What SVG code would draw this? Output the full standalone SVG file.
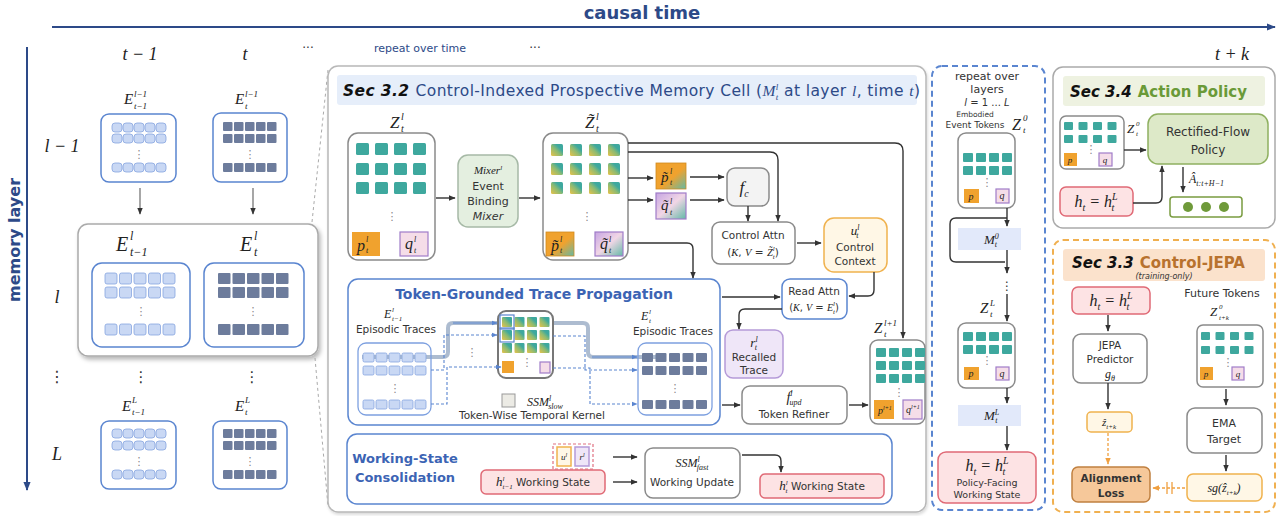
<svg xmlns="http://www.w3.org/2000/svg" width="1280" height="516" viewBox="0 0 1280 516">
<defs>
<style>
text{font-family:"DejaVu Sans","Liberation Sans",sans-serif;fill:#333}
.m{font-family:"Liberation Serif","DejaVu Serif",serif;font-style:italic;fill:#222}
.c{text-anchor:middle}
.bl{fill:#2d4a88}
.bt{fill:#3c64b4;font-weight:bold}
.ar{fill:none;stroke:#333;stroke-width:1.4;marker-end:url(#ah)}
.ln{fill:none;stroke:#333;stroke-width:1.4}
.box{fill:#fff;stroke:#8a8a8a;stroke-width:1.5}
.bbox{fill:#fff;stroke:#5a85d0;stroke-width:1.5}
.pink{fill:#fde3e4;stroke:#e06a76;stroke-width:1.5}
.orgb{fill:#fff7e6;stroke:#f0b24e;stroke-width:1.5}
.pur{fill:#efe6f8;stroke:#b59ad8;stroke-width:1.5}
.mem{fill:#e2e9fa}
.po{fill:#f0a22e}
.pq{fill:#f5dde8;stroke:#a07cc8;stroke-width:1.2}
.tl{fill:#c9d8f4;stroke:#86a5e0;stroke-width:0.8}
.td{fill:#6d7c9c}
.tt{fill:#3ea89e}
.tg{fill:url(#gt)}
.dsh{fill:none;stroke:#5a85d0;stroke-width:1.1;stroke-dasharray:3 2;marker-end:url(#abl)}
.thk{fill:none;stroke:#9fb0c8;stroke-width:4;opacity:0.85}
.dots{fill:#888;font-size:11px}
</style>
<marker id="ah" viewBox="0 0 10 10" refX="9" refY="5" markerWidth="7" markerHeight="7" markerUnits="userSpaceOnUse" orient="auto"><path d="M0,1 L10,5 L0,9 z" fill="#333"/></marker>
<marker id="ab" viewBox="0 0 10 10" refX="9" refY="5" markerWidth="9" markerHeight="9" markerUnits="userSpaceOnUse" orient="auto"><path d="M0,1 L10,5 L0,9 z" fill="#2d4a88"/></marker>
<marker id="abl" viewBox="0 0 10 10" refX="9" refY="5" markerWidth="6" markerHeight="6" markerUnits="userSpaceOnUse" orient="auto"><path d="M0,1 L10,5 L0,9 z" fill="#5a85d0"/></marker>
<marker id="ao" viewBox="0 0 10 10" refX="9" refY="5" markerWidth="7" markerHeight="7" markerUnits="userSpaceOnUse" orient="auto"><path d="M0,1 L10,5 L0,9 z" fill="#f0a040"/></marker>
<linearGradient id="gt" x1="0" y1="1" x2="1" y2="0"><stop offset="0" stop-color="#e8c24a"/><stop offset="0.45" stop-color="#8cbb72"/><stop offset="0.7" stop-color="#3ea89e"/></linearGradient>
<linearGradient id="gp" x1="0" y1="0" x2="1" y2="1"><stop offset="0" stop-color="#f0a22e"/><stop offset="0.55" stop-color="#f0a22e"/><stop offset="1" stop-color="#62b9a6"/></linearGradient>
<linearGradient id="gq" x1="0" y1="0" x2="1" y2="1"><stop offset="0" stop-color="#c7a6e2"/><stop offset="0.5" stop-color="#f1d6e6"/><stop offset="1" stop-color="#62b9a6"/></linearGradient>
<filter id="sh" x="-5%" y="-5%" width="115%" height="120%"><feDropShadow dx="2" dy="3" stdDeviation="2" flood-color="#000" flood-opacity="0.28"/></filter>
<filter id="sh2" x="-5%" y="-5%" width="110%" height="110%"><feDropShadow dx="1" dy="2" stdDeviation="1.5" flood-color="#000" flood-opacity="0.15"/></filter>
<g id="rL5"><rect class="tl" x="0" width="10" height="9" rx="3"/><rect class="tl" x="11" width="10" height="9" rx="3"/><rect class="tl" x="22" width="10" height="9" rx="3"/><rect class="tl" x="33" width="10" height="9" rx="3"/><rect class="tl" x="44" width="10" height="9" rx="3"/></g>
<g id="rD5"><rect class="td" x="0" width="9.5" height="9" rx="1"/><rect class="td" x="11" width="9.5" height="9" rx="1"/><rect class="td" x="22" width="9.5" height="9" rx="1"/><rect class="td" x="33" width="9.5" height="9" rx="1"/><rect class="td" x="44" width="9.5" height="9" rx="1"/></g>
<g id="rLb"><rect class="tl" x="0" width="12" height="11" rx="2"/><rect class="tl" x="14.5" width="12" height="11" rx="2"/><rect class="tl" x="29" width="12" height="11" rx="2"/><rect class="tl" x="43.5" width="12" height="11" rx="2"/><rect class="tl" x="58" width="12" height="11" rx="2"/></g>
<g id="rDb"><rect class="td" x="0" width="12.5" height="11" rx="1"/><rect class="td" x="14.5" width="12.5" height="11" rx="1"/><rect class="td" x="29" width="12.5" height="11" rx="1"/><rect class="td" x="43.5" width="12.5" height="11" rx="1"/><rect class="td" x="58" width="12.5" height="11" rx="1"/></g>
<g id="rT4"><rect class="tt" x="0" width="13" height="12" rx="1.5"/><rect class="tt" x="19" width="13" height="12" rx="1.5"/><rect class="tt" x="38" width="13" height="12" rx="1.5"/><rect class="tt" x="57" width="13" height="12" rx="1.5"/></g>
<g id="rG4"><rect class="tg" x="0" width="12" height="12" rx="1.5"/><rect class="tg" x="19" width="12" height="12" rx="1.5"/><rect class="tg" x="38" width="12" height="12" rx="1.5"/><rect class="tg" x="57" width="12" height="12" rx="1.5"/></g>
<g id="rTs"><rect class="tt" x="0" width="10" height="9" rx="1"/><rect class="tt" x="13" width="10" height="9" rx="1"/><rect class="tt" x="26" width="10" height="9" rx="1"/><rect class="tt" x="39" width="10" height="9" rx="1"/></g>
<g id="rGs"><rect class="tg" x="0" width="10" height="10" rx="1"/><rect class="tg" x="12.5" width="10" height="10" rx="1"/><rect class="tg" x="25" width="10" height="10" rx="1"/><rect class="tg" x="37.5" width="10" height="10" rx="1"/></g>
<g id="rLt"><rect class="tl" x="0" width="11" height="9" rx="1.5"/><rect class="tl" x="13" width="11" height="9" rx="1.5"/><rect class="tl" x="26" width="11" height="9" rx="1.5"/><rect class="tl" x="39" width="11" height="9" rx="1.5"/><rect class="tl" x="52" width="11" height="9" rx="1.5"/></g>
<g id="rDt"><rect class="td" x="0" width="11" height="9" rx="1"/><rect class="td" x="13.5" width="11" height="9" rx="1"/><rect class="td" x="27" width="11" height="9" rx="1"/><rect class="td" x="40.5" width="11" height="9" rx="1"/><rect class="td" x="54" width="11" height="9" rx="1"/></g>
<g id="rTx"><rect class="tt" x="0" width="9" height="8" rx="1"/><rect class="tt" x="14.5" width="9" height="8" rx="1"/><rect class="tt" x="29" width="9" height="8" rx="1"/><rect class="tt" x="43.5" width="9" height="8" rx="1"/></g>
</defs>

<rect width="1280" height="516" fill="#fff"/>

<!-- axes -->
<g id="axes">
<line x1="52" y1="27" x2="1275" y2="27" stroke="#2d4a88" stroke-width="2" marker-end="url(#ab)"/>
<text x="642" y="19" class="c bl" font-size="18" font-weight="bold">causal time</text>
<line x1="27" y1="47" x2="27" y2="490" stroke="#2d4a88" stroke-width="2" marker-end="url(#ab)"/>
<text transform="translate(20,240) rotate(-90)" class="c bl" font-size="16" font-weight="bold">memory layer</text>
<text x="140" y="60" class="m c" font-size="18">t − 1</text>
<text x="245" y="60" class="m c" font-size="18" fill="#556">t</text>
<text x="308" y="52" class="c" font-size="12">···</text>
<text x="420" y="52" class="c bl" font-size="11">repeat over time</text>
<text x="535" y="52" class="c" font-size="12">···</text>
<text x="1232" y="60" class="m c" font-size="18">t + k</text>
<text x="62" y="152" class="m c" font-size="18">l − 1</text>
<text x="57" y="303" class="m c" font-size="18">l</text>
<text x="57" y="382" class="c" font-size="16">⋮</text>
<text x="57" y="460" class="m c" font-size="18">L</text>
</g>

<!-- left grid -->
<g id="E_lm1_tm1">
<text x="124" y="104" class="m" font-size="15">E</text><text x="134" y="97" class="m" font-size="9">l−1</text><text x="134" y="109" class="m" font-size="9">t−1</text>
<rect x="101" y="114" width="75" height="68" rx="8" class="bbox"/>
<use href="#rL5" x="112" y="123"/><use href="#rL5" x="112" y="134"/><text x="139" y="158" class="c dots" font-size="9">⋮</text><use href="#rL5" x="112" y="163"/>
</g>
<g id="E_lm1_t">
<text x="235" y="104" class="m" font-size="15">E</text><text x="245" y="97" class="m" font-size="9">l−1</text><text x="245" y="109" class="m" font-size="9">t</text>
<rect x="213" y="113" width="74" height="69" rx="8" class="bbox"/>
<use href="#rD5" x="223" y="122"/><use href="#rD5" x="223" y="134"/><text x="250" y="158" class="c dots" font-size="9">⋮</text><use href="#rD5" x="223" y="163"/>
</g>
<g id="layer_l">
<rect x="78" y="224" width="240" height="132" rx="10" fill="#fff" stroke="#aaa" stroke-width="1.5" filter="url(#sh)"/>
<text x="116" y="251" class="m" font-size="20">E</text><text x="130" y="240" class="m" font-size="12">l</text><text x="130" y="256" class="m" font-size="12">t−1</text>
<text x="240" y="251" class="m" font-size="20">E</text><text x="254" y="240" class="m" font-size="12">l</text><text x="254" y="256" class="m" font-size="12">t</text>
<rect x="92" y="263" width="98" height="84" rx="10" class="bbox"/>
<use href="#rLb" x="105" y="273"/><use href="#rLb" x="105" y="287"/><text x="141" y="315" class="c dots">⋮</text><use href="#rLb" x="105" y="324"/>
<rect x="204" y="263" width="100" height="84" rx="10" class="bbox"/>
<use href="#rDb" x="218" y="273"/><use href="#rDb" x="218" y="287"/><text x="253" y="315" class="c dots">⋮</text><use href="#rDb" x="218" y="324"/>
</g>
<g id="E_L_tm1">
<text x="122" y="411" class="m" font-size="15">E</text><text x="132" y="403" class="m" font-size="9">L</text><text x="132" y="415" class="m" font-size="9">t−1</text>
<rect x="101" y="421" width="75" height="68" rx="8" class="bbox"/>
<use href="#rL5" x="112" y="429"/><use href="#rL5" x="112" y="441"/><text x="139" y="465" class="c dots" font-size="9">⋮</text><use href="#rL5" x="112" y="470"/>
</g>
<g id="E_L_t">
<text x="235" y="411" class="m" font-size="15">E</text><text x="245" y="403" class="m" font-size="9">L</text><text x="245" y="415" class="m" font-size="9">t</text>
<rect x="213" y="421" width="74" height="68" rx="8" class="bbox"/>
<use href="#rD5" x="223" y="429"/><use href="#rD5" x="223" y="441"/><text x="250" y="465" class="c dots" font-size="9">⋮</text><use href="#rD5" x="223" y="470"/>
</g>
<g id="left_connectors">
<line x1="140" y1="188" x2="140" y2="214" stroke="#777" stroke-width="1.3" marker-end="url(#ah)"/>
<line x1="253" y1="188" x2="253" y2="214" stroke="#777" stroke-width="1.3" marker-end="url(#ah)"/>
<text x="141" y="382" class="c" font-size="15">⋮</text>
<text x="252" y="382" class="c" font-size="15">⋮</text>
<line x1="312" y1="222" x2="328" y2="70" stroke="#aaa" stroke-width="1" stroke-dasharray="3 3"/>
<line x1="315" y1="358" x2="328" y2="506" stroke="#aaa" stroke-width="1" stroke-dasharray="3 3"/>
</g>

<!-- Sec 3.2 panel -->
<g id="sec32">
<rect x="328" y="66" width="598" height="446" rx="10" fill="#fff" stroke="#b8b8b8" stroke-width="1.5" filter="url(#sh2)"/>
<rect x="337" y="75" width="580" height="30" rx="3" fill="#e6eefa"/>
<text x="343" y="96" font-size="15.5" letter-spacing="0.4"><tspan font-style="italic" font-weight="bold" fill="#111">Sec 3.2</tspan><tspan class="bl" dx="6">Control-Indexed Prospective Memory Cell (</tspan><tspan class="m bl">M</tspan><tspan class="m bl" font-size="9" dy="-6">l</tspan><tspan class="m bl" font-size="9" dx="-3" dy="10">t</tspan><tspan class="bl" dy="-4"> at layer </tspan><tspan class="m bl">l</tspan><tspan class="bl">, time </tspan><tspan class="m bl">t</tspan><tspan class="bl">)</tspan></text>
</g>

<g id="Z_lt">
<text x="390" y="128" class="m" font-size="17">Z</text><text x="401" y="120" class="m" font-size="10">l</text><text x="401" y="132" class="m" font-size="10">t</text>
<rect x="348" y="133" width="87" height="127" rx="10" class="box"/>
<use href="#rT4" x="356" y="143"/><use href="#rT4" x="356" y="163"/><use href="#rT4" x="356" y="182"/>
<text x="392" y="220" class="c dots">⋮</text>
<rect x="352" y="232" width="28" height="24" class="po"/>
<text x="357" y="251" class="m" font-size="16">p</text><text x="366" y="242" class="m" font-size="8">l</text><text x="366" y="253" class="m" font-size="8">t</text>
<rect x="400" y="232" width="28" height="24" class="pq"/>
<text x="405" y="249" class="m" font-size="16">q</text><text x="414" y="242" class="m" font-size="8">l</text><text x="414" y="253" class="m" font-size="8">t</text>
</g>
<g id="mixer">
<rect x="458" y="155" width="60" height="72" rx="10" fill="#e4efe0" stroke="#a6b9a6" stroke-width="1.5"/>
<text x="488" y="174" class="m c" font-size="11">Mixer<tspan font-size="7" dy="-4">l</tspan></text>
<text x="488" y="190" class="c" font-size="11">Event</text>
<text x="488" y="205" class="c" font-size="11">Binding</text>
<text x="488" y="220" class="c" font-size="11" font-style="italic">Mixer</text>
</g>
<g id="Zt_lt">
<text x="585" y="128" class="m" font-size="17">Z̃</text><text x="596" y="120" class="m" font-size="10">l</text><text x="596" y="132" class="m" font-size="10">t</text>
<rect x="543" y="133" width="85" height="127" rx="10" class="box"/>
<use href="#rG4" x="551" y="144"/><use href="#rG4" x="551" y="163"/><use href="#rG4" x="551" y="182"/>
<text x="587" y="220" class="c dots">⋮</text>
<rect x="546" y="232" width="28" height="24" fill="url(#gp)" stroke="#d08a20" stroke-width="0.8"/>
<text x="551" y="251" class="m" font-size="16">p̃</text><text x="560" y="242" class="m" font-size="8">l</text><text x="560" y="253" class="m" font-size="8">t</text>
<rect x="595" y="232" width="28" height="24" fill="url(#gq)" stroke="#a07cc8" stroke-width="1.2"/>
<text x="600" y="249" class="m" font-size="16">q̃</text><text x="609" y="242" class="m" font-size="8">l</text><text x="609" y="253" class="m" font-size="8">t</text>
</g>
<g id="pt_small">
<rect x="656" y="163" width="30" height="26" fill="url(#gp)" stroke="#d08a20" stroke-width="0.8"/>
<text x="661" y="182" class="m" font-size="15">p̃</text><text x="670" y="174" class="m" font-size="8">l</text><text x="670" y="185" class="m" font-size="8">t</text>
</g>
<g id="qt_small">
<rect x="656" y="193" width="30" height="26" fill="url(#gq)" stroke="#a07cc8" stroke-width="1.2"/>
<text x="661" y="210" class="m" font-size="15">q̃</text><text x="670" y="204" class="m" font-size="8">l</text><text x="670" y="215" class="m" font-size="8">t</text>
</g>
<g id="fc">
<rect x="727" y="168" width="42" height="38" rx="8" fill="#f3f3f3" stroke="#8a8a8a" stroke-width="1.5"/>
<text x="744" y="193" class="m c" font-size="17">f<tspan font-size="10" dy="4">c</tspan></text>
</g>
<g id="control_attn">
<rect x="712" y="222" width="83" height="42" rx="8" class="box"/>
<text x="753" y="239" class="c" font-size="10.5">Control Attn</text>
<text x="753" y="256" class="c" font-size="10.5">(<tspan class="m">K</tspan>, <tspan class="m">V</tspan> = <tspan class="m">Z̃</tspan><tspan class="m" font-size="7" dy="-5">l</tspan><tspan class="m" font-size="7" dx="-2" dy="8">t</tspan><tspan dy="-3">)</tspan></text>
</g>
<g id="u_ctx">
<rect x="824" y="218" width="63" height="54" rx="10" class="orgb"/>
<text x="855" y="235" class="m c" font-size="13">u<tspan font-size="8" dy="-5">l</tspan><tspan font-size="8" dx="-3" dy="8">t</tspan></text>
<text x="855" y="251" class="c" font-size="10.5">Control</text>
<text x="855" y="265" class="c" font-size="10.5">Context</text>
</g>
<g id="read_attn">
<rect x="782" y="279" width="65" height="40" rx="8" class="bbox"/>
<text x="814" y="295" class="c" font-size="10.5">Read Attn</text>
<text x="814" y="311" class="c" font-size="10">(<tspan class="m">K</tspan>, <tspan class="m">V</tspan> = <tspan class="m">E</tspan><tspan class="m" font-size="7" dy="-5">l</tspan><tspan class="m" font-size="7" dx="-2" dy="8">t</tspan><tspan dy="-3">)</tspan></text>
</g>
<g id="recalled">
<rect x="725" y="330" width="58" height="48" rx="8" class="pur"/>
<text x="754" y="347" class="m c" font-size="13">r<tspan font-size="8" dy="-5">l</tspan><tspan font-size="8" dx="-3" dy="8">t</tspan></text>
<text x="754" y="361" class="c" font-size="10.5">Recalled</text>
<text x="754" y="374" class="c" font-size="10.5">Trace</text>
</g>
<g id="refiner">
<rect x="742" y="386" width="105" height="38" rx="8" class="box"/>
<text x="794" y="402" class="m c" font-size="14">f<tspan font-size="8" dy="-6">l</tspan><tspan font-size="8" dx="-3" dy="9">upd</tspan></text>
<text x="794" y="418" class="c" font-size="10.5">Token Refiner</text>
</g>
<g id="Z_l1_t">
<text x="874" y="333" class="m" font-size="15">Z</text><text x="884" y="326" class="m" font-size="9">l+1</text><text x="884" y="337" class="m" font-size="9">t</text>
<rect x="870" y="340" width="55" height="84" rx="8" class="box"/>
<use href="#rTs" x="876" y="348"/><use href="#rTs" x="876" y="361"/><use href="#rTs" x="876" y="374"/>
<text x="899" y="396" class="c dots" font-size="9">⋮</text>
<rect x="874" y="400" width="20" height="19" class="po"/>
<text x="878" y="414" class="m" font-size="10">p<tspan font-size="6" dy="-4">l+1</tspan></text>
<rect x="903" y="400" width="19" height="19" class="pq"/>
<text x="906" y="413" class="m" font-size="10">q<tspan font-size="6" dy="-4">l+1</tspan></text>
</g>

<g id="trace_prop">
<rect x="348" y="279" width="372" height="146" rx="10" class="bbox"/>
<text x="534" y="299" class="c bt" font-size="14">Token-Grounded Trace Propagation</text>
<text x="384" y="318" class="m" font-size="12">E</text><text x="392" y="312" class="m" font-size="7">l</text><text x="392" y="321" class="m" font-size="7">t−1</text>
<text x="396" y="333" class="c" font-size="10.5">Episodic Traces</text>
<text x="641" y="320" class="m" font-size="12">E</text><text x="649" y="314" class="m" font-size="7">l</text><text x="649" y="323" class="m" font-size="7">t</text>
<text x="673" y="335" class="c" font-size="10.5">Episodic Traces</text>
<path class="thk" d="M362,357 H443 Q448,357 448,352 V328 Q448,323 453,323 H497"/>
<path class="thk" d="M553,323 H583 Q588,323 588,328 V352 Q588,357 593,357 H660"/>
<rect x="358" y="343" width="73" height="72" rx="8" fill="none" stroke="#7da0e0" stroke-width="1.3"/>
<use href="#rLt" x="363" y="353"/><use href="#rLt" x="363" y="366"/><text x="395" y="392" class="c dots" font-size="9">⋮</text><use href="#rLt" x="363" y="400"/>
<rect x="638" y="343" width="74" height="72" rx="8" fill="none" stroke="#7da0e0" stroke-width="1.3"/>
<use href="#rDt" x="642" y="353"/><use href="#rDt" x="642" y="366"/><text x="675" y="392" class="c dots" font-size="9">⋮</text><use href="#rDt" x="642" y="400"/>
<text x="472" y="356" class="c dots" font-size="10">⋮</text>
<rect x="498" y="311" width="55" height="67" rx="8" fill="#fff" stroke="#777" stroke-width="2"/>
<use href="#rGs" x="502" y="317"/><use href="#rGs" x="502" y="330"/><use href="#rGs" x="502" y="343"/>
<rect x="500" y="315" width="14" height="14" fill="none" stroke="#5a85d0" stroke-width="1.2"/>
<rect x="500" y="328" width="14" height="14" fill="none" stroke="#5a85d0" stroke-width="1.2"/>
<text x="527" y="366" class="c dots" font-size="8">⋮</text>
<rect x="502" y="361" width="12" height="12" class="po"/>
<rect x="540" y="362" width="10" height="11" class="pq"/>
<rect x="502" y="394" width="13" height="13" fill="#ecebe5" stroke="#999" stroke-width="1"/>
<text x="527" y="406" class="m" font-size="12">SSM<tspan font-size="8" dy="-5">l</tspan><tspan font-size="8" dx="-3" dy="8">slow</tspan></text>
<text x="532" y="419" class="c" font-size="10.5">Token-Wise Temporal Kernel</text>
<path class="dsh" d="M431,370 H444 V335 H497"/>
<path class="dsh" d="M431,404 H447 V367 H501"/>
<path class="dsh" d="M553,336 H585 V370 H637"/>
<path class="dsh" d="M553,368 H590 V404 H637"/>
<path d="M592,357 H637" fill="none" stroke="#5a85d0" stroke-width="1.1" marker-end="url(#abl)"/>
<path d="M453,323 H497" fill="none" stroke="#5a85d0" stroke-width="1.1" marker-end="url(#abl)"/>
</g>

<g id="working_state">
<rect x="347" y="434" width="545" height="70" rx="10" class="bbox"/>
<text x="405" y="463" class="c bt" font-size="13">Working-State</text>
<text x="405" y="482" class="c bt" font-size="13">Consolidation</text>
<rect x="553" y="444" width="40" height="25" fill="none" stroke="#e07080" stroke-width="1.2" stroke-dasharray="3 2"/>
<rect x="557" y="447" width="14" height="19" class="orgb"/>
<text x="564" y="460" class="m c" font-size="9">u<tspan font-size="6" dy="-3">l</tspan></text>
<rect x="575" y="447" width="14" height="19" class="pur"/>
<text x="582" y="460" class="m c" font-size="9">r<tspan font-size="6" dy="-3">l</tspan></text>
<rect x="481" y="470" width="124" height="24" rx="5" class="pink"/>
<text x="543" y="486" class="c" font-size="10.5"><tspan class="m" font-size="13">h</tspan><tspan class="m" font-size="7" dy="-5">l</tspan><tspan class="m" font-size="7" dx="-2" dy="8">t−1</tspan><tspan dy="-3"> Working State</tspan></text>
<rect x="645" y="448" width="95" height="50" rx="8" class="box"/>
<text x="692" y="467" class="m c" font-size="12">SSM<tspan font-size="8" dy="-5">l</tspan><tspan font-size="8" dx="-3" dy="8">fast</tspan></text>
<text x="692" y="486" class="c" font-size="10.5">Working Update</text>
<rect x="760" y="474" width="124" height="24" rx="5" class="pink"/>
<text x="822" y="490" class="c" font-size="10.5"><tspan class="m" font-size="13">h</tspan><tspan class="m" font-size="7" dy="-5">l</tspan><tspan class="m" font-size="7" dx="-2" dy="8">t</tspan><tspan dy="-3"> Working State</tspan></text>
</g>

<g id="connectors_32">
<path class="ar" d="M436,198 H455"/>
<path class="ar" d="M519,198 H540"/>
<path class="ar" d="M628,143 H895 Q903,143 903,151 V338"/>
<path class="ar" d="M628,152 H770 Q778,152 778,160 V221"/>
<path class="ar" d="M628,178 H653"/>
<path class="ar" d="M628,200 H653"/>
<path class="ar" d="M690,177 H724"/>
<path class="ar" d="M690,200 H724"/>
<path class="ar" d="M748,206 V221"/>
<path class="ar" d="M628,243 H687 Q693,243 693,249 V278"/>
<path class="ar" d="M797,243 H821"/>
<path class="ar" d="M874,272 V290 Q874,296 868,296 H849"/>
<path class="ar" d="M722,297 H780"/>
<path class="ar" d="M782,309 H745 Q739,309 739,315 V329"/>
<path class="ar" d="M722,405 H740"/>
<path class="ar" d="M849,405 H868"/>
<path class="ar" d="M613,457 H637"/>
<path class="ar" d="M613,482 H637"/>
<path class="ar" d="M742,455 H775 Q781,455 781,461 V472"/>
</g>

<!-- layer column -->
<g id="layers_col">
<rect x="932" y="66" width="113" height="444" rx="10" fill="none" stroke="#5a85d0" stroke-width="2" stroke-dasharray="6 4"/>
<text x="987" y="80" class="c" font-size="11" fill="#5a85d0">repeat over</text>
<text x="987" y="93" class="c" font-size="11" fill="#5a85d0">layers</text>
<text x="987" y="106" class="c" font-size="10" fill="#5a85d0"><tspan font-style="italic">l</tspan> = 1 ... <tspan font-style="italic">L</tspan></text>
<text x="975" y="117" class="c" font-size="7.5">Embodied</text>
<text x="975" y="128" class="c" font-size="9">Event Tokens</text>
<text x="1012" y="130" class="m" font-size="16">Z</text><text x="1023" y="121" class="m" font-size="9">0</text><text x="1023" y="133" class="m" font-size="9">t</text>
</g>
<g id="Z0">
<rect x="958" y="133" width="57" height="75" rx="8" class="box"/>
<use href="#rTs" x="963" y="153"/><use href="#rTs" x="963" y="166"/>
<text x="987" y="186" class="c dots" font-size="8">⋮</text>
<rect x="964" y="189" width="15" height="14" class="po"/>
<text x="971" y="200" class="m c" font-size="10">p</text>
<rect x="996" y="189" width="13" height="14" class="pq"/>
<text x="1002" y="199" class="m c" font-size="10">q</text>
</g>
<g id="M0">
<rect x="958" y="228" width="63" height="22" class="mem"/>
<text x="984" y="244" class="m" font-size="13" fill="#3c64b4">M<tspan font-size="8" dy="-5">0</tspan><tspan font-size="8" dx="-4" dy="8">t</tspan></text>
</g>
<g id="ZL">
<text x="980" y="313" class="m" font-size="15">Z</text><text x="990" y="306" class="m" font-size="9">L</text><text x="990" y="317" class="m" font-size="9">t</text>
<rect x="958" y="323" width="57" height="65" rx="8" class="box"/>
<use href="#rTs" x="963" y="332"/><use href="#rTs" x="963" y="345"/>
<text x="987" y="364" class="c dots" font-size="8">⋮</text>
<rect x="964" y="367" width="15" height="13" class="po"/>
<text x="971" y="377" class="m c" font-size="10">p</text>
<rect x="996" y="367" width="13" height="13" class="pq"/>
<text x="1002" y="377" class="m c" font-size="10">q</text>
</g>
<g id="ML">
<rect x="958" y="405" width="63" height="21" class="mem"/>
<text x="984" y="420" class="m" font-size="13" fill="#3c64b4">M<tspan font-size="8" dy="-5">L</tspan><tspan font-size="8" dx="-4" dy="8">t</tspan></text>
</g>
<g id="policy_state">
<rect x="938" y="452" width="98" height="51" rx="8" class="pink"/>
<text x="987" y="471" class="m c" font-size="16">h<tspan font-size="10" dy="4">t</tspan><tspan dy="-4"> = h</tspan><tspan font-size="10" dy="-7">L</tspan><tspan font-size="10" dx="-6" dy="11">t</tspan></text>
<text x="987" y="486" class="c" font-size="9.5">Policy-Facing</text>
<text x="987" y="498" class="c" font-size="9.5">Working State</text>
</g>
<g id="connectors_layers">
<path class="ar" d="M1007,208 V226"/>
<path class="ln" d="M1007,218 H956 Q950,218 950,224 V256 Q950,262 956,262 H1005"/>
<path class="ar" d="M1007,250 V273"/>
<text x="1007" y="290" class="c" font-size="12">⋮</text>
<path class="ar" d="M1007,294 V321"/>
<path class="ar" d="M1007,388 V403"/>
<path class="ar" d="M1007,426 V450"/>
</g>

<!-- Action policy -->
<g id="sec34">
<rect x="1053" y="67" width="222" height="161" rx="10" fill="#fff" stroke="#aaa" stroke-width="1.5"/>
<rect x="1063" y="76" width="202" height="30" rx="3" fill="#eef2e1"/>
<text x="1070" y="97" font-size="15"><tspan font-style="italic" font-weight="bold" fill="#111">Sec 3.4</tspan><tspan dx="6" fill="#6a9a38" font-weight="bold">Action Policy</tspan></text>
</g>
<g id="ap_Z0">
<rect x="1060" y="116" width="64" height="53" rx="6" class="box"/>
<use href="#rTx" x="1064" y="122"/><use href="#rTx" x="1064" y="135"/>
<text x="1091" y="153" class="c dots" font-size="7">⋮</text>
<rect x="1064" y="153" width="13" height="13" class="po"/>
<text x="1070" y="163" class="m c" font-size="9">p</text>
<rect x="1099" y="153" width="13" height="13" class="pq"/>
<text x="1105" y="163" class="m c" font-size="9">q</text>
<text x="1127" y="133" class="m" font-size="13">Z</text><text x="1136" y="126" class="m" font-size="7">0</text><text x="1136" y="136" class="m" font-size="7">t</text>
</g>
<g id="rectflow">
<rect x="1148" y="114" width="120" height="50" rx="10" fill="#dde9c8" stroke="#8fb060" stroke-width="1.5"/>
<text x="1208" y="136" class="c" font-size="12">Rectified-Flow</text>
<text x="1208" y="154" class="c" font-size="12">Policy</text>
</g>
<g id="ap_h">
<rect x="1060" y="187" width="73" height="29" rx="6" class="pink"/>
<text x="1096" y="207" class="m c" font-size="16">h<tspan font-size="10" dy="4">t</tspan><tspan dy="-4"> = h</tspan><tspan font-size="10" dy="-7">L</tspan><tspan font-size="10" dx="-6" dy="11">t</tspan></text>
</g>
<g id="actions">
<text x="1189" y="183" class="m" font-size="12">Â<tspan font-size="8" dy="3">t:t+H−1</tspan></text>
<rect x="1170" y="197" width="72" height="20" rx="3" fill="#fff" stroke="#7a9c40" stroke-width="1.5"/>
<circle cx="1188" cy="207" r="5" fill="#6f9a3a"/><circle cx="1206" cy="207" r="5" fill="#6f9a3a"/><circle cx="1224" cy="207" r="5" fill="#6f9a3a"/>
</g>
<g id="connectors_34">
<path class="ar" d="M1124,150 H1146"/>
<path class="ar" d="M1133,203 H1156 Q1162,203 1162,197 V166"/>
<path class="ar" d="M1183,167 V192"/>
</g>

<!-- Control-JEPA -->
<g id="sec33">
<rect x="1053" y="240" width="222" height="272" rx="10" fill="none" stroke="#f0b050" stroke-width="2" stroke-dasharray="6 4"/>
<rect x="1063" y="249" width="202" height="32" rx="3" fill="#fbe2cc"/>
<text x="1072" y="268" font-size="15"><tspan font-style="italic" font-weight="bold" fill="#111">Sec 3.3</tspan><tspan dx="6" fill="#b8722e" font-weight="bold">Control-JEPA</tspan></text>
<text x="1164" y="279" class="c" font-size="8" font-style="italic" fill="#c07a35">(training-only)</text>
</g>
<g id="jepa_h">
<rect x="1072" y="287" width="78" height="27" rx="6" class="pink"/>
<text x="1111" y="306" class="m c" font-size="16">h<tspan font-size="10" dy="4">t</tspan><tspan dy="-4"> = h</tspan><tspan font-size="10" dy="-7">L</tspan><tspan font-size="10" dx="-6" dy="11">t</tspan></text>
</g>
<g id="jepa_pred">
<rect x="1073" y="334" width="74" height="49" rx="8" class="box"/>
<text x="1110" y="349" class="c" font-size="10.5">JEPA</text>
<text x="1110" y="363" class="c" font-size="10.5">Predictor</text>
<text x="1110" y="378" class="m c" font-size="12">g<tspan font-size="8" dy="3">θ</tspan></text>
</g>
<g id="zhat">
<rect x="1087" y="412" width="45" height="20" rx="4" class="orgb"/>
<text x="1109" y="426" class="m c" font-size="11">ẑ<tspan font-size="7" dy="3">t+k</tspan></text>
</g>
<g id="align_loss">
<rect x="1072" y="467" width="78" height="35" rx="6" fill="#f6c89a" stroke="#c08040" stroke-width="1.5"/>
<text x="1111" y="482" class="c" font-size="10.5" font-weight="bold">Alignment</text>
<text x="1111" y="497" class="c" font-size="10.5" font-weight="bold">Loss</text>
</g>
<g id="future_tokens">
<text x="1222" y="297" class="c" font-size="11">Future Tokens</text>
<text x="1210" y="316" class="m" font-size="13">Z</text><text x="1219" y="309" class="m" font-size="7">0</text><text x="1219" y="320" class="m" font-size="7">t+k</text>
<rect x="1197" y="325" width="66" height="62" rx="6" class="box"/>
<use href="#rTx" x="1201" y="332"/><use href="#rTx" x="1201" y="346"/>
<text x="1228" y="366" class="c dots" font-size="7">⋮</text>
<rect x="1200" y="367" width="13" height="13" class="po"/>
<text x="1206" y="377" class="m c" font-size="9">p</text>
<rect x="1232" y="367" width="12" height="13" class="pq"/>
<text x="1238" y="377" class="m c" font-size="9">q</text>
</g>
<g id="ema">
<rect x="1187" y="408" width="75" height="45" rx="8" class="box"/>
<text x="1224" y="427" class="c" font-size="11">EMA</text>
<text x="1224" y="443" class="c" font-size="11">Target</text>
</g>
<g id="sg">
<rect x="1187" y="474" width="75" height="27" rx="6" class="orgb"/>
<text x="1224" y="492" class="m c" font-size="12">sg(ẑ<tspan font-size="7" dy="3">t+k</tspan><tspan dy="-3">)</tspan></text>
</g>
<g id="connectors_33">
<path class="ar" d="M1108,315 V331"/>
<path class="ar" d="M1108,383 V409"/>
<path d="M1108,433 V464" fill="none" stroke="#f0a040" stroke-width="1.3" stroke-dasharray="3 2" marker-end="url(#ao)"/>
<path class="ar" d="M1226,389 V405"/>
<path class="ar" d="M1226,455 V471"/>
<path d="M1185,488 H1153" fill="none" stroke="#f0a040" stroke-width="1.3" stroke-dasharray="3 2" marker-end="url(#ao)"/>
<line x1="1167" y1="482" x2="1167" y2="494" stroke="#f0a040" stroke-width="1.3"/>
<line x1="1172" y1="482" x2="1172" y2="494" stroke="#f0a040" stroke-width="1.3"/>
</g>
</svg>
